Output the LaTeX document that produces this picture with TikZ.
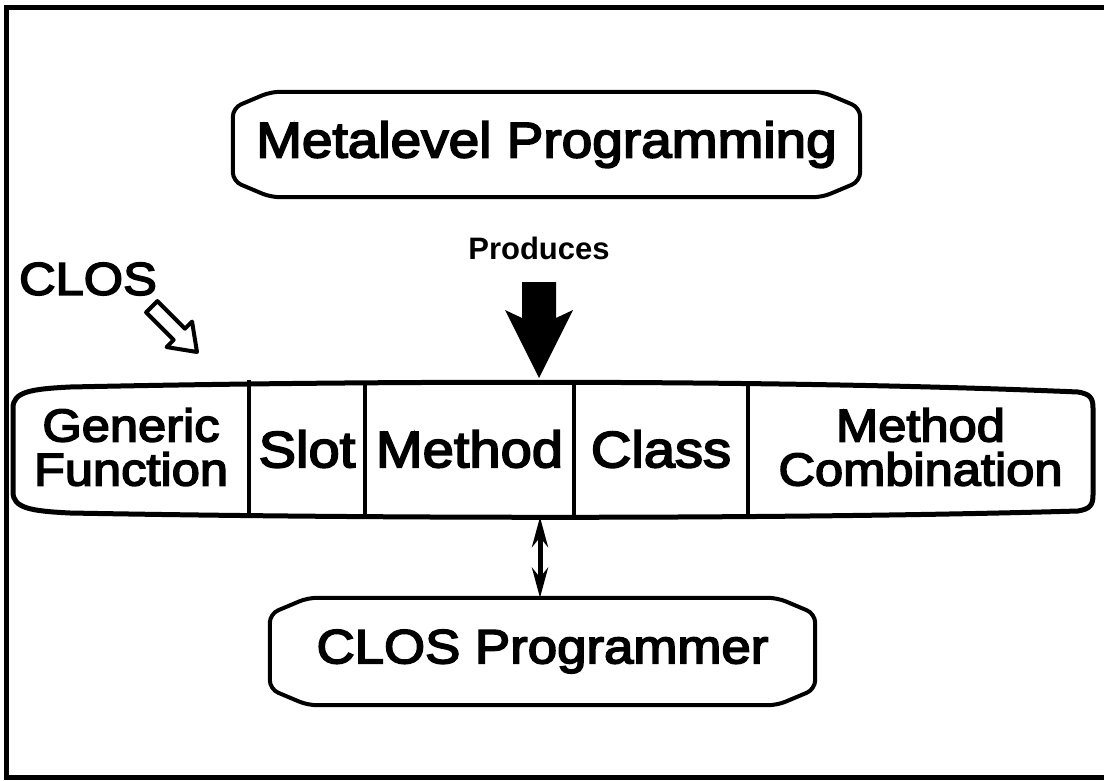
\documentclass[tikz,border=0pt]{standalone}
\usepackage{fontspec}
\setmainfont{Liberation Sans}[FakeStretch=1.1, FakeBold=3.5]
\newfontfamily\headfont{Liberation Sans Bold}
\usetikzlibrary{calc,arrows.meta}
\tikzset{
  outline/.style={line width=4pt, rounded corners=9pt, line join=round},
  bigtext/.style={font=\fontsize{50}{46}\selectfont, inner sep=0pt},
  celltext/.style={font=\fontsize{51}{46}\selectfont, inner sep=0pt},
  twoline/.style={font=\fontsize{46}{44}\selectfont, align=center, inner sep=0pt},
  cell/.style={minimum height=133pt, inner sep=0pt},
  divider/.style={line width=4pt},
  linkarrow/.style={line width=5pt, {Stealth[length=30pt,width=16pt]}-{Stealth[length=30pt,width=16pt]}},
}
% chamfered box drawn round a named node
\newcommand\drawlozenge[1]{%
  \draw[outline] ($(#1.north west)+(0,16)$) -- ($(#1.north west)+(38,0)$)
    -- ($(#1.north east)+(-38,0)$) -- ($(#1.north east)+(0,16)$)
    -- ($(#1.south east)+(0,-16)$) -- ($(#1.south east)+(-38,0)$)
    -- ($(#1.south west)+(38,0)$) -- ($(#1.south west)+(0,-16)$) -- cycle;}
\begin{document}
\begin{tikzpicture}[x=1pt,y=-1pt]
\useasboundingbox (0,0) rectangle (1104,780);
% frame
\draw[line width=5pt] (6,7) rectangle (1110,777);

% top box
\node[bigtext, minimum width=627pt, minimum height=105pt] (meta) at (546.5,144.5) {Metalevel Programming};
\drawlozenge{meta}

% labels and arrows above the bar
\node[font=\headfont\fontsize{31}{31}\selectfont, inner sep=0pt] (prod) at (539,248) {Produces};
\node[font=\fontsize{46}{46}\selectfont, inner sep=0pt] (clos) at (88,279) {CLOS};

\coordinate (ptip) at (539,378);
\fill (ptip) -- ++(-34,-68) -- ++(17,8) -- ++(0,-36) -- ++(34,0) -- ++(0,36) -- ++(17,-8) -- cycle;

\begin{scope}[shift={(197,352)}, rotate=-45]
  \draw[line width=4pt, line join=round] (0,0) -- (-25,18) -- (-25,8) -- (-64,8) -- (-64,-8) -- (-25,-8) -- (-25,-18) -- cycle;
\end{scope}

% the bar of components
\node[cell, minimum width=236pt, twoline] (gf) at (131,447) {Generic\\Function};
\node[cell, minimum width=116pt, celltext] (slot) at (307,449) {Slot};
\node[cell, minimum width=209pt, celltext] (meth) at (469.5,449) {Method};
\node[cell, minimum width=174pt, celltext] (class) at (661,449) {Class};
\node[cell, minimum width=345pt, twoline] (mc) at (920.5,447) {Method\\Combination};

\draw[line width=5pt, line join=round]
  (13,408) .. controls (13,392) and (30,389) .. (70,387)
  .. controls (400,380) and (800,380) .. (1078,392)
  .. controls (1090,394) and (1093,398) .. (1093,408)
  -- (1093,495)
  .. controls (1093,505) and (1090,509) .. (1078,511)
  .. controls (800,519) and (400,519) .. (70,513)
  .. controls (30,511) and (13,508) .. (13,492) -- cycle;
\draw[divider] (gf.north east) -- (gf.south east);
\draw[divider] (slot.north east) -- (slot.south east);
\draw[divider] (meth.north east) -- (meth.south east);
\draw[divider] (class.north east) -- (class.south east);

% bottom box
\node[bigtext, font=\fontsize{48}{46}\selectfont, minimum width=545pt, minimum height=107pt] (prog) at (542.5,651.5) {CLOS Programmer};
\drawlozenge{prog}

\coordinate (link) at (540,517);
\draw[linkarrow] (link) -- (link |- prog.north);
\end{tikzpicture}
\end{document}
